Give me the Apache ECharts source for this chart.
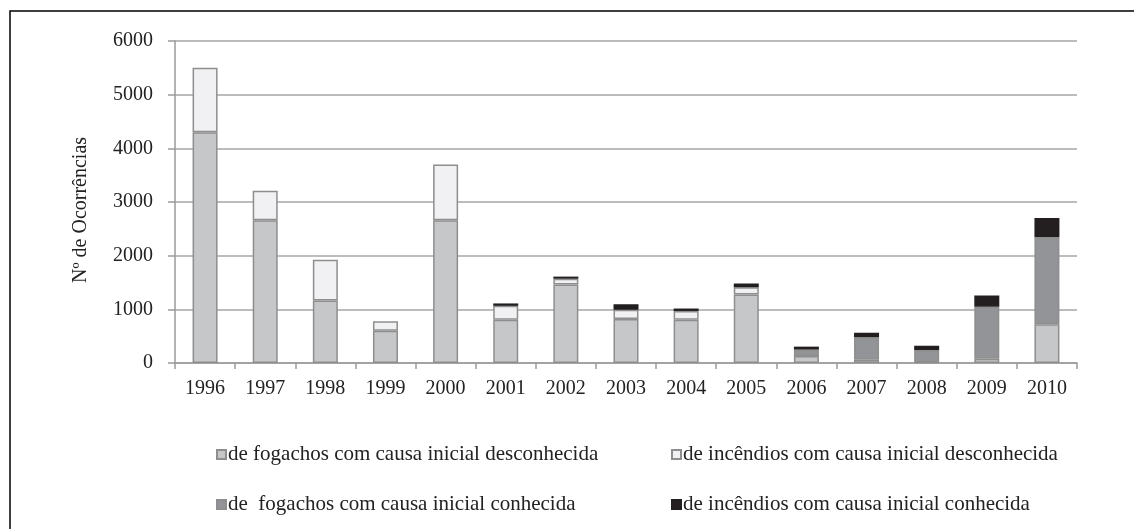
<!DOCTYPE html>
<html>
<head>
<meta charset="utf-8">
<script src="https://cdn.jsdelivr.net/npm/echarts@6/dist/echarts.min.js"></script>
<style>
html,body{margin:0;padding:0;background:#fff;}
#chart{width:1134px;height:529px;}
</style>
</head>
<body>
<div id="chart"></div>
<script>
const years = ['1996','1997','1998','1999','2000','2001','2002','2003','2004','2005','2006','2007','2008','2009','2010'];
const fogDesc = [4300,2660,1165,600,2660,805,1465,820,805,1275,130,60,15,80,720];
const incDesc = [1200,550,760,180,1040,260,105,170,165,135,0,0,0,0,0];
const fogConh = [0,0,0,0,0,0,0,0,0,0,120,420,225,970,1630];
const incConh = [0,0,0,0,0,45,40,105,45,70,55,85,80,210,350];
const yTicks = [0,1000,2000,3000,4000,5000,6000];

const names = ['de fogachos com causa inicial desconhecida','de incêndios com causa inicial desconhecida','de  fogachos com causa inicial conhecida','de incêndios com causa inicial conhecida'];
const colors = ['#c6c7c9','#f1f1f3','#939497','#231f20'];
const datas = [fogDesc, incDesc, fogConh, incConh];

const font = 'Liberation Serif';
const chart = echarts.init(document.getElementById('chart'));
chart.setOption({
  animation:false,
  backgroundColor:'#fff',
  grid:{left:175,right:57,top:41,bottom:166,containLabel:false},
  xAxis:{type:'category',data:years,
    axisLine:{lineStyle:{color:'#9a9a9a',width:1.5}},
    axisTick:{show:true,length:6,lineStyle:{color:'#9a9a9a',width:1.5}},
    axisLabel:{color:'#222',fontFamily:font,fontSize:20,margin:16}},
  yAxis:{type:'value',min:yTicks[0],max:yTicks[yTicks.length-1],interval:1000,
    name:'Nº de Ocorrências',nameLocation:'middle',nameGap:84,nameRotate:90,
    nameTextStyle:{color:'#222',fontFamily:font,fontSize:20,padding:[0,16,0,0]},
    axisLine:{show:true,lineStyle:{color:'#9a9a9a',width:1.5}},
    axisTick:{show:true,length:7,lineStyle:{color:'#9a9a9a',width:1.5}},
    axisLabel:{color:'#222',fontFamily:font,fontSize:20,margin:22,formatter:v=>String(v)},
    splitLine:{lineStyle:{color:'#a6a6a6',width:1.5}}},
  legend:[
    {data:[names[0],names[2]],orient:'vertical',left:211,top:439,itemGap:29,itemWidth:9,itemHeight:9,
     textStyle:{color:'#222',fontFamily:font,fontSize:21,padding:[0,0,0,-3]},icon:'rect'},
    {data:[names[1],names[3]],orient:'vertical',left:666,top:439,itemGap:29,itemWidth:9,itemHeight:9,
     textStyle:{color:'#222',fontFamily:font,fontSize:21,padding:[0,0,0,-3]},icon:'rect'}
  ],
  graphic:[{type:'rect',shape:{x:10,y:11,width:1140,height:540},style:{fill:'none',stroke:'#000',lineWidth:1.5},silent:true}],
  series: datas.map((d,i)=>({
    type:'bar',name:names[i],stack:'t',data:d.map(v=>v===0?'-':v),barWidth:25,
    itemStyle:{color:colors[i],borderColor:i===3?'#231f20':'#8e8e8e',borderWidth:1.5}
  }))
});
</script>
</body>
</html>
